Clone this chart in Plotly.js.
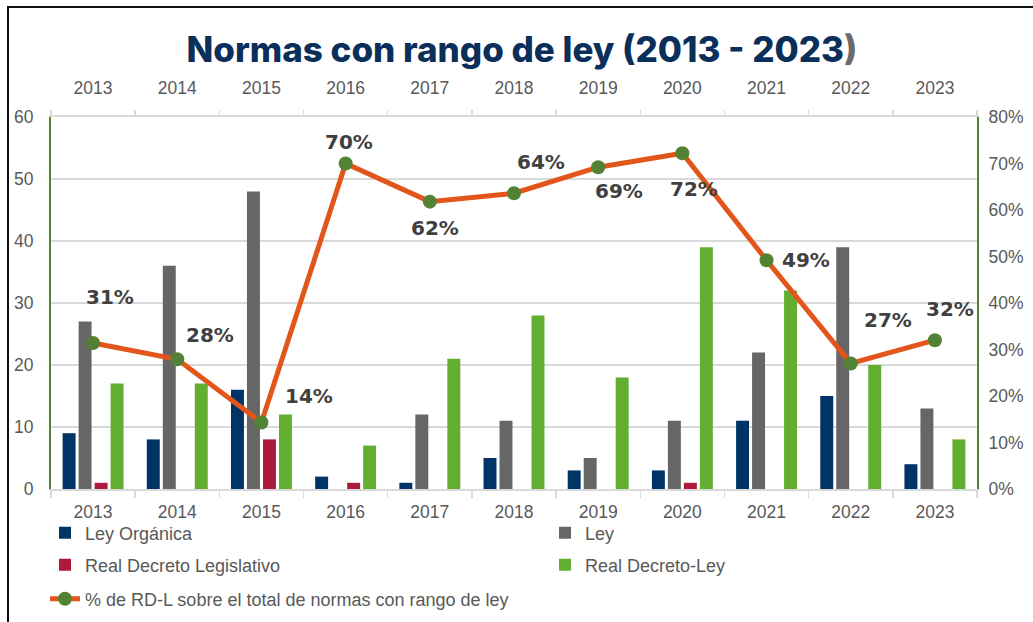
<!DOCTYPE html>
<html><head><meta charset="utf-8">
<script src="https://cdn.plot.ly/plotly-3.0.1.min.js"></script>
<style>
html,body{margin:0;padding:0;background:#fff;overflow:hidden;}
#chart{width:1033px;height:622px;position:absolute;left:0;top:0;}
#frame{position:absolute;left:7px;top:6px;width:1040px;height:630px;border-left:2px solid #111;border-top:2px solid #111;pointer-events:none;}
</style>
</head><body>
<div id="chart"></div><div id="frame"></div>
<script>
// ---- data ----
const years = ['2013','2014','2015','2016','2017','2018','2019','2020','2021','2022','2023'];
const leyOrganica = [9, 8, 16, 2, 1, 5, 3, 3, 11, 15, 4];
const ley = [27, 36, 48, 0, 12, 11, 5, 11, 22, 39, 13];
const realDecretoLegislativo = [1, 0, 8, 1, 0, 0, 0, 1, 0, 0, 0];
const realDecretoLey = [17, 17, 12, 7, 21, 28, 18, 39, 32, 20, 8];
const pctRDL = [0.314, 0.279, 0.143, 0.700, 0.618, 0.636, 0.692, 0.722, 0.492, 0.270, 0.320];
const seriesNames = ['Ley Orgánica', 'Ley', 'Real Decreto Legislativo', 'Real Decreto-Ley',
  '% de RD-L sobre el total de normas con rango de ley'];

// ---- styles ----
const labelShift = [[17,46],[33,24],[48,27],[3,22],[5,-26],[27,31],[21,-24],[12,-36],[39,0],[37,43],[15,31]];
const tickFont = {family:'Liberation Sans, Arial, sans-serif', size:17.5, color:'#595959'};
const legFont = {family:'Liberation Sans, Arial, sans-serif', size:18, color:'#595959'};
const grid = '#D9D9D9';
const catRange = [-0.5, years.length - 0.5];

const traces = [
  {type:'bar', x:years, y:leyOrganica, name:seriesNames[0], marker:{color:'#003366'}, legend:'legend'},
  {type:'bar', x:years, y:ley, name:seriesNames[1], marker:{color:'#666666'}, legend:'legend2'},
  {type:'bar', x:years, y:realDecretoLegislativo, name:seriesNames[2], marker:{color:'#AD1A3B'}, legend:'legend3'},
  {type:'bar', x:years, y:realDecretoLey, name:seriesNames[3], marker:{color:'#62AE31'}, legend:'legend4'},
  {type:'scatter', mode:'lines+markers', x:years, y:pctRDL, name:seriesNames[4], xaxis:'x2', yaxis:'y2',
   line:{color:'#E2561B', width:5}, marker:{color:'#548235', size:14}, legend:'legend5'}
];

const annotations = years.map((yr,i)=>({
  x: i, y: pctRDL[i], xref:'x2', yref:'y2', showarrow:false,
  text: Math.round(pctRDL[i]*100)+'%',
  xshift: labelShift[i][0], yshift: labelShift[i][1],
  font:{family:'DejaVu Sans, sans-serif', size:20, color:'#404040', weight:'bold'}
}));

const PL=51, PR=977, PT=117, PB=489;
const px = v => (v-PL)/(PR-PL);
const py = v => (PB-v)/(PB-PT);
function leg(x, y){
  return {x:px(x), y:py(y), xanchor:'left', yanchor:'middle', orientation:'h',
    bgcolor:'rgba(0,0,0,0)', font:legFont};
}

const layout = {
  width:1033, height:622,
  margin:{l:PL, r:1033-PR, t:PT, b:622-PB, autoexpand:false},
  paper_bgcolor:'#fff', plot_bgcolor:'#fff',
  title:{text:'Normas con rango de ley (2013 - 2023<span style="color:#6b6b6b">)</span>',
    x:522/1033, xanchor:'center', xref:'container', y:1-50/622, yanchor:'middle', yref:'container',
    font:{family:'Inter, Lato, sans-serif', size:35, color:'#0B2F5B', weight:800}},
  barmode:'group', bargap:0.24, bargroupgap:0.19,
  showlegend:true,
  xaxis:{type:'category', range:catRange, autorange:false, tickson:'boundaries', ticks:'outside', ticklen:7, tickcolor:grid, tickwidth:1.5,
    showline:true, linecolor:grid, linewidth:2, showgrid:false, tickfont:tickFont, ticklabelstandoff:6, tickangle:0},
  xaxis2:{type:'category', range:catRange, autorange:false, overlaying:'x', side:'top', anchor:'y', tickson:'boundaries',
    ticks:'outside', ticklen:5, tickcolor:grid, tickwidth:1.5, tickangle:0,
    showline:true, linecolor:grid, linewidth:2, showgrid:false, tickfont:tickFont, ticklabelstandoff:14},
  yaxis:{range:[0,60], dtick:10, showgrid:true, gridcolor:grid, gridwidth:2, zeroline:false,
    showline:true, linecolor:'#548235', linewidth:2, ticks:'', tickfont:tickFont, ticklabelstandoff:12},
  yaxis2:{range:[0,0.8], dtick:0.1, tickformat:'.0%', overlaying:'y', side:'right', anchor:'x',
    showgrid:false, zeroline:false, showline:true, linecolor:'#548235', linewidth:2, ticks:'', tickfont:tickFont, ticklabelstandoff:6},
  legend: leg(45, 533),
  legend2: leg(545, 533),
  legend3: leg(45, 565),
  legend4: leg(545, 565),
  legend5: leg(45, 599),
  annotations: annotations
};

Plotly.newPlot('chart', traces, layout, {staticPlot:true, displayModeBar:false});
</script>
</body></html>
